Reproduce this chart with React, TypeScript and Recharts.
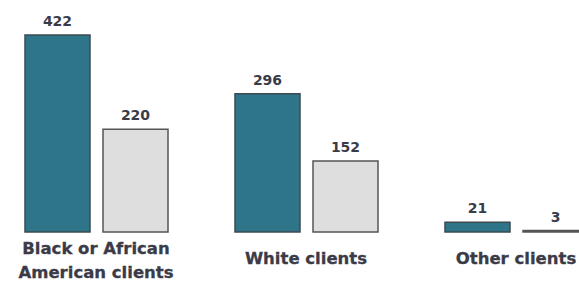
import { BarChart, Bar, XAxis, YAxis, LabelList } from 'recharts'

const categories = ['Black or African|American clients', 'White clients', 'Other clients']
const seriesA = [422, 296, 21]
const seriesB = [220, 152, 3]

const data = categories.map((name, i) => ({ name, a: seriesA[i], b: seriesB[i] }))

const FONT = "'DejaVu Sans', sans-serif"
const TEXT = '#3b3b48'

function CategoryTick(props: any) {
  const { x, y, payload } = props
  const lines = String(payload.value).split('|')
  const start = lines.length > 1 ? -10 : 0
  return (
    <g>
      {lines.map((line: string, i: number) => (
        <text
          key={i}
          x={x}
          y={y + 26 + start + i * 24}
          textAnchor="middle"
          dominantBaseline="central"
          fontFamily={FONT}
          fontWeight={700}
          fontSize={16.5}
          fill={TEXT}
          stroke={TEXT}
          strokeWidth={0.3}
        >
          {line}
        </text>
      ))}
    </g>
  )
}

export default function App() {
  return (
    <div
      style={{
        position: 'absolute',
        left: 0,
        top: 0,
        width: 579,
        height: 293,
        overflow: 'hidden',
        background: '#fff',
      }}
    >
      <div style={{ position: 'absolute', left: -9, top: 0 }}>
        <BarChart
          width={630}
          height={293}
          data={data}
          margin={{ top: 35, right: 0, left: 0, bottom: 0 }}
          barSize={65}
          barGap={13}
        >
          <XAxis
            dataKey="name"
            axisLine={false}
            tickLine={false}
            tickSize={0}
            tickMargin={0}
            interval={0}
            tick={<CategoryTick />}
            height={61}
          />
          <YAxis hide domain={[0, 422]} />
          <Bar dataKey="a" fill="#2e7589" stroke="#3d4a50" strokeWidth={1.5} isAnimationActive={false}>
            <LabelList
              dataKey="a"
              position="top"
              offset={9}
              fontFamily={FONT}
              fontWeight={700}
              fontSize={14}
              fill={TEXT}
            />
          </Bar>
          <Bar dataKey="b" fill="#dedede" stroke="#555" strokeWidth={1.5} isAnimationActive={false}>
            <LabelList
              dataKey="b"
              position="top"
              offset={9}
              fontFamily={FONT}
              fontWeight={700}
              fontSize={14}
              fill={TEXT}
            />
          </Bar>
        </BarChart>
      </div>
    </div>
  )
}
